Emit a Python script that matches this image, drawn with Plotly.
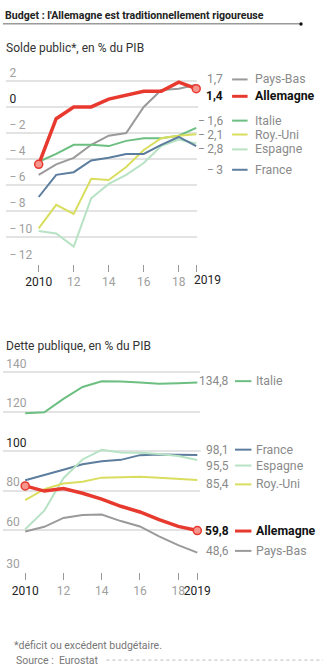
import plotly.graph_objects as go

W, H = 334, 669

years = list(range(2010, 2020))

# Solde public (% du PIB)
solde = {
    "Pays-Bas":  [-5.2, -4.4, -3.9, -2.9, -2.2, -2.0, 0.0, 1.3, 1.4, 1.7],
    "Italie":    [-4.2, -3.6, -2.9, -2.9, -3.0, -2.6, -2.4, -2.4, -2.2, -1.6],
    "Roy.-Uni":  [-9.3, -7.5, -8.2, -5.5, -5.6, -4.6, -3.3, -2.4, -2.2, -2.1],
    "Espagne":   [-9.5, -9.7, -10.7, -7.0, -5.9, -5.2, -4.3, -3.0, -2.5, -2.8],
    "France":    [-6.9, -5.2, -5.0, -4.1, -3.9, -3.6, -3.6, -2.9, -2.3, -3.0],
    "Allemagne": [-4.4, -0.9, 0.0, 0.0, 0.6, 0.9, 1.2, 1.2, 1.9, 1.4],
}
solde_labels = {"Pays-Bas": "1,7", "Allemagne": "1,4", "Italie": "−\u20091,6",
                "Roy.-Uni": "−\u20092,1", "Espagne": "−\u20092,8", "France": "−\u20093"}

# Dette publique (% du PIB)
dette = {
    "Italie":    [119.2, 119.7, 126.5, 132.5, 135.4, 135.3, 134.8, 134.1, 134.4, 134.8],
    "France":    [85.3, 87.8, 90.6, 93.4, 94.9, 95.6, 98.0, 98.3, 98.1, 98.1],
    "Espagne":   [60.5, 69.9, 86.3, 95.8, 100.7, 99.3, 99.2, 98.6, 97.6, 95.5],
    "Roy.-Uni":  [75.2, 80.8, 83.6, 84.5, 86.6, 86.9, 87.0, 86.6, 85.9, 85.4],
    "Pays-Bas":  [59.3, 61.7, 66.2, 67.7, 67.9, 64.6, 61.9, 56.9, 52.4, 48.6],
    "Allemagne": [82.4, 79.8, 81.1, 78.7, 75.7, 72.1, 69.2, 65.3, 61.9, 59.8],
}
dette_labels = {"Italie": "134,8", "France": "98,1", "Espagne": "95,5",
                "Roy.-Uni": "85,4", "Allemagne": "59,8", "Pays-Bas": "48,6"}

x_tickvals = [2010, 2012, 2014, 2016, 2018, 2019]
x_ticktext = ["2010", "12", "14", "16", "18", "2019"]

y1_tickvals = [2, 0, -2, -4, -6, -8, -10, -12]
y1_ticktext = ["2", "0", "−\u20092", "−\u20094", "−\u20096", "−\u20098", "−\u200910", "−\u200912"]

y2_tickvals = [140, 120, 100, 80, 60, 38.6]
y2_ticktext = ["140", "120", "100", "80", "60", "30"]

colors = {
    "Pays-Bas": "#9a9a9a",
    "Italie": "#6cbf80",
    "Roy.-Uni": "#d9de5e",
    "Espagne": "#b7e3c4",
    "France": "#5d7d9e",
    "Allemagne": "#e8392f",
}

FONT = "Roboto, Liberation Sans, sans-serif"

fig = go.Figure()

def add_lines(data, xa, ya):
    for name, vals in data.items():
        fig.add_trace(go.Scatter(
            x=years, y=vals, mode="lines", xaxis=xa, yaxis=ya,
            line=dict(color=colors[name], width=3.5 if name == "Allemagne" else 2),
            showlegend=False, hoverinfo="skip", cliponaxis=False))
    de = data["Allemagne"]
    fig.add_trace(go.Scatter(
        x=[years[0], years[-1]], y=[de[0], de[-1]], mode="markers",
        xaxis=xa, yaxis=ya, cliponaxis=False,
        marker=dict(size=8, color="#f4968d", line=dict(color="#e8392f", width=1.5)),
        showlegend=False, hoverinfo="skip"))

add_lines(solde, "x", "y")
add_lines(dette, "x2", "y2")

def py(px):
    return 1 - px / H

def pxx(px):
    return px / W

def dark(t):
    return '<span style="color:#222">%s</span>' % t

def xtt(texts, drop_last=False):
    out = [dark(t) if len(t) == 4 else t for t in texts]
    if drop_last:
        out[-1] = ""
    return out

def ytt(texts, d):
    return [dark(t) if t == d else t for t in texts]

axis_font = dict(family=FONT, size=12, color="#a0a0a0")

fig.update_layout(
    width=W, height=H,
    margin=dict(l=0, r=0, t=0, b=0),
    paper_bgcolor="white", plot_bgcolor="white",
    font=dict(family=FONT),
    xaxis=dict(domain=[pxx(6.7), pxx(204)], range=[2008.16, 2019.06],
               tickvals=x_tickvals, ticktext=xtt(x_ticktext, True), ticks="outside",
               ticklen=7, tickcolor="#999", tickwidth=1.2, showgrid=False, tickangle=0,
               zeroline=False, showline=False, tickfont=axis_font, anchor="y"),
    yaxis=dict(domain=[py(260.5), py(65.9)], range=[-12, 2.8],
               tickvals=y1_tickvals, ticktext=ytt(y1_ticktext, "0"),
               ticklabelposition="inside top", ticklabeloverflow="allow",
               showgrid=True, gridcolor="#e3e3e3", gridwidth=1.5,
               zeroline=False, showline=False, tickfont=axis_font, anchor="x"),
    xaxis2=dict(domain=[pxx(3.3), pxx(207)], range=[2008.85, 2019.15],
                tickvals=x_tickvals, ticktext=xtt(x_ticktext), ticks="outside",
                ticklen=7, tickcolor="#999", tickwidth=1.2, showgrid=False, tickangle=0,
                zeroline=False, showline=False, tickfont=axis_font, anchor="y2"),
    yaxis2=dict(domain=[py(571.7), py(360)], range=[38.6, 145],
                tickvals=y2_tickvals, ticktext=ytt(y2_ticktext, "100"),
                ticklabelposition="inside top", ticklabeloverflow="allow",
                showgrid=True, gridcolor="#e3e3e3", gridwidth=1.5,
                zeroline=False, showline=False, tickfont=axis_font, anchor="x2"),
)

shapes = []
shapes.append(dict(type="line", xref="x domain", yref="y", x0=0, x1=1, y0=0, y1=0,
                   line=dict(color="#666", width=1.6), layer="below"))
shapes.append(dict(type="line", xref="x2 domain", yref="y2", x0=0, x1=1, y0=100, y1=100,
                   line=dict(color="#666", width=1.6), layer="below"))
shapes.append(dict(type="line", xref="paper", yref="paper", x0=pxx(3), x1=pxx(310),
                   y0=py(19), y1=py(19), line=dict(color="#666", width=1)))
shapes.append(dict(type="circle", xref="paper", yref="paper", x0=pxx(309.5), x1=pxx(313),
                   y0=py(20.8), y1=py(17.3), fillcolor="#111", line=dict(width=0)))
shapes.append(dict(type="line", xref="paper", yref="paper", x0=pxx(110), x1=1,
                   y0=py(660), y1=py(660), line=dict(color="#bbb", width=1, dash="dot")))

annotations = []

def ann(text, x, y, size=13, color="#777", anchor="left", family=FONT):
    annotations.append(dict(text=text, x=pxx(x), y=py(y), xref="paper", yref="paper",
                            xanchor=anchor, yanchor="middle", showarrow=False,
                            font=dict(family=family, size=size, color=color)))

# last year label of the first chart, set slightly right of its tick as in the original
annotations.append(dict(text=dark(x_ticktext[-1]), x=x_tickvals[-1], xref="x",
                        y=py(277), yref="paper", xanchor="left", yanchor="middle",
                        xshift=-4, showarrow=False, font=axis_font))

def legend(labels, ypos, vx, sx0, sx1, nx):
    for name, ypx in ypos.items():
        bold = name == "Allemagne"
        vtxt = "<b>%s</b>" % labels[name] if bold else labels[name]
        ntxt = "<b>%s</b>" % name if bold else name
        col = "#111" if bold else "#8a8a8a"
        ann(vtxt, vx, ypx, 12, col, "right")
        ann(ntxt, nx, ypx, 12.3, col, "left")
        shapes.append(dict(type="line", xref="paper", yref="paper", x0=pxx(sx0), x1=pxx(sx1),
                           y0=py(ypx), y1=py(ypx),
                           line=dict(color=colors[name], width=3 if bold else 2)))

legend(solde_labels, {"Pays-Bas": 75, "Allemagne": 92, "Italie": 116.5, "Roy.-Uni": 130.5,
                      "Espagne": 145.5, "France": 166}, 233, 240, 256, 262)
legend(dette_labels, {"Italie": 379, "France": 448, "Espagne": 464, "Roy.-Uni": 483,
                      "Allemagne": 530, "Pays-Bas": 550}, 239, 243, 260, 263)

ann("<b>Budget : l'Allemagne est traditionnellement rigoureuse</b>", 3, 11, 10.6, "#222")
ann("Solde public*, en % du PIB", 4, 43, 12, "#333")
ann("Dette publique, en % du PIB", 4, 344, 12, "#333")
ann("*déficit ou excédent budgétaire.", 12, 645, 10.5, "#777")
ann("Source :  Eurostat", 14, 660, 10.5, "#777")

fig.update_layout(shapes=shapes, annotations=annotations)

fig.write_html("out.html")
